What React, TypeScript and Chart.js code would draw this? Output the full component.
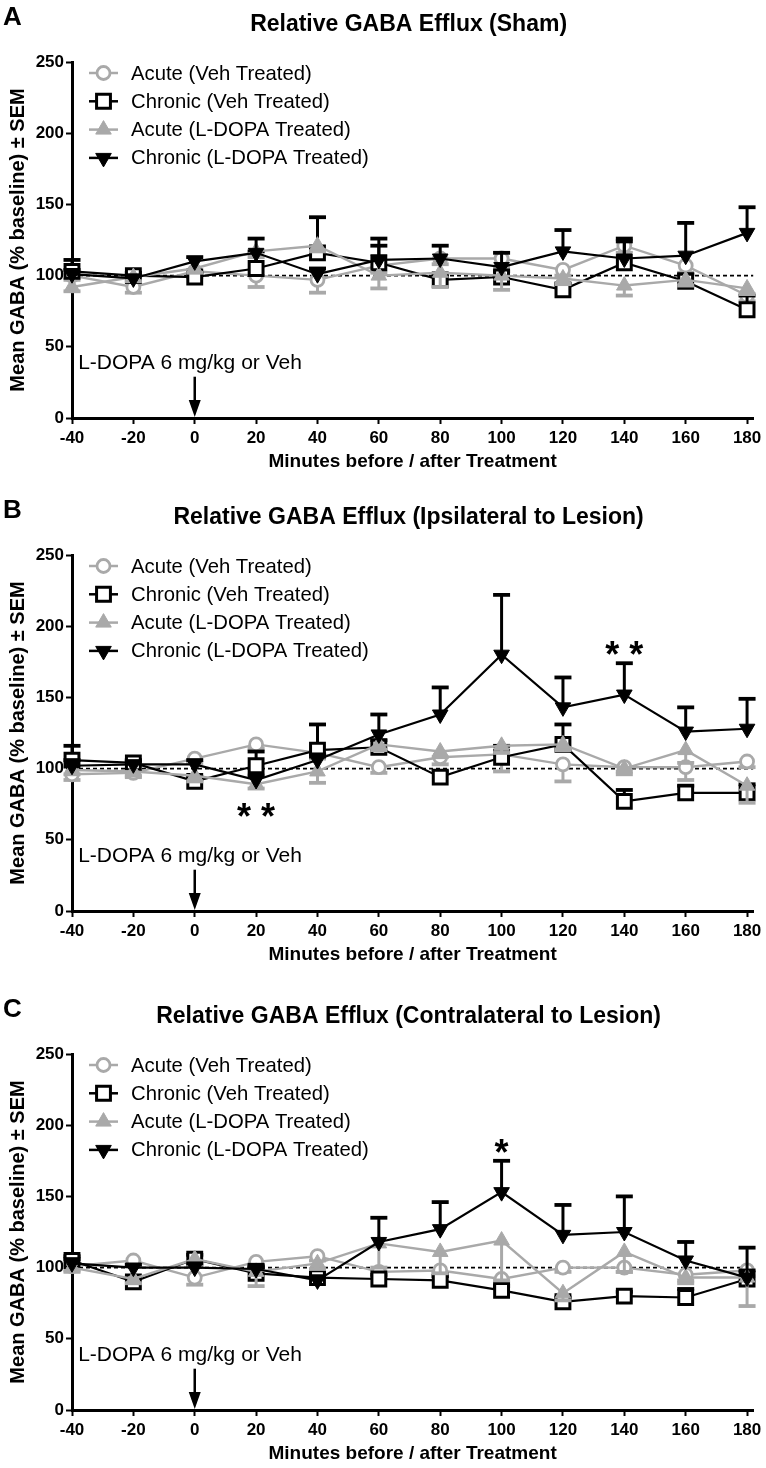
import React, { useEffect, useRef } from 'react';
import { Chart, registerables } from 'chart.js';

Chart.register(...registerables);

const FONT = "'Liberation Sans', Arial, Helvetica, sans-serif";
const GREY = '#a9a9a9';
const BLACK = '#000000';

// ---------- shared axis data ----------
const minutes = [-40, -20, 0, 20, 40, 60, 80, 100, 120, 140, 160, 180];
const xTickValues = [-40, -20, 0, 20, 40, 60, 80, 100, 120, 140, 160, 180];
const yTickValues = [0, 50, 100, 150, 200, 250];
const baselineLevel = 100;
const seriesLabels = [
  'Acute (Veh Treated)',
  'Chronic (Veh Treated)',
  'Acute (L-DOPA Treated)',
  'Chronic (L-DOPA Treated)',
];
const xAxisTitle = 'Minutes before / after Treatment';
const yAxisTitle = 'Mean GABA (% baseline) ± SEM';
const treatmentNote = 'L-DOPA 6 mg/kg or Veh';

// ---------- Panel A: Sham ----------
const shamAcuteVeh = [100, 92, 103, 100, 97, 107, 112, 112, 104, 121, 107, 86];
const shamAcuteVehSem = [3, 4, 4, 8, 9, 5, 4, 6, 4, 5, 5, 4];
const shamChronicVeh = [103, 100, 99, 105, 116, 109, 97, 99, 90, 109, 96, 76];
const shamChronicVehSem = [8, 2, 3, 12, 25, 12, 4, 4, 4, 15, 5, 10];
const shamAcuteLd = [92, 99, 105, 117, 121, 100, 102, 100, 98, 93, 97, 91];
const shamAcuteLdSem = [3, 3, 3, 4, 4, 9, 10, 10, 4, 7, 4, 4];
const shamChronicLd = [101, 98, 110, 116, 101, 111, 112, 106, 117, 112, 114, 130];
const shamChronicLdSem = [3, 2, 3, 10, 4, 15, 9, 10, 15, 14, 23, 18];
const shamStars: { t: number; v: number; text: string }[] = [];

// ---------- Panel B: Ipsilateral ----------
const ipsiAcuteVeh = [96, 97, 107, 117, 111, 101, 108, 110, 103, 101, 101, 105];
const ipsiAcuteVehSem = [4, 3, 3, 3, 4, 4, 5, 12, 12, 3, 9, 4];
const ipsiChronicVeh = [106, 104, 91, 102, 113, 115, 94, 108, 117, 77, 83, 83];
const ipsiChronicVehSem = [10, 2, 3, 10, 18, 5, 4, 8, 14, 8, 5, 6];
const ipsiAcuteLd = [99, 98, 95, 89, 98, 117, 112, 116, 117, 100, 113, 88];
const ipsiAcuteLdSem = [3, 3, 4, 3, 8, 4, 4, 5, 4, 4, 9, 12];
const ipsiChronicLd = [102, 103, 103, 92, 106, 124, 138, 180, 143, 152, 126, 128];
const ipsiChronicLdSem = [4, 2, 3, 3, 4, 14, 19, 42, 21, 22, 17, 21];
const ipsiStars = [
  { t: 20, v: 72, text: '* *' },
  { t: 140, v: 186, text: '* *' },
];

// ---------- Panel C: Contralateral ----------
const contraAcuteVeh = [101, 105, 93, 104, 108, 97, 98, 92, 100, 100, 95, 98];
const contraAcuteVehSem = [3, 3, 5, 3, 3, 4, 4, 3, 3, 3, 4, 4];
const contraChronicVeh = [105, 90, 106, 96, 93, 92, 91, 84, 76, 80, 79, 92];
const contraChronicVehSem = [3, 3, 3, 4, 4, 3, 3, 3, 3, 3, 6, 6];
const contraAcuteLd = [100, 92, 106, 97, 103, 117, 111, 119, 82, 111, 93, 93];
const contraAcuteLdSem = [3, 3, 4, 10, 4, 17, 15, 28, 5, 14, 4, 20];
const contraChronicLd = [103, 100, 100, 99, 91, 118, 127, 153, 123, 125, 105, 93];
const contraChronicLdSem = [3, 2, 3, 3, 3, 17, 19, 22, 21, 25, 13, 21];
const contraStars = [{ t: 100, v: 187, text: '*' }];

type PanelDef = {
  letter: string;
  title: string;
  top: number;
  acuteVeh: number[];
  acuteVehSem: number[];
  chronicVeh: number[];
  chronicVehSem: number[];
  acuteLd: number[];
  acuteLdSem: number[];
  chronicLd: number[];
  chronicLdSem: number[];
  stars: { t: number; v: number; text: string }[];
};

const panels: PanelDef[] = [
  {
    letter: 'A', title: 'Relative GABA Efflux (Sham)', top: 0,
    acuteVeh: shamAcuteVeh, acuteVehSem: shamAcuteVehSem,
    chronicVeh: shamChronicVeh, chronicVehSem: shamChronicVehSem,
    acuteLd: shamAcuteLd, acuteLdSem: shamAcuteLdSem,
    chronicLd: shamChronicLd, chronicLdSem: shamChronicLdSem,
    stars: shamStars,
  },
  {
    letter: 'B', title: 'Relative GABA Efflux (Ipsilateral to Lesion)', top: 493,
    acuteVeh: ipsiAcuteVeh, acuteVehSem: ipsiAcuteVehSem,
    chronicVeh: ipsiChronicVeh, chronicVehSem: ipsiChronicVehSem,
    acuteLd: ipsiAcuteLd, acuteLdSem: ipsiAcuteLdSem,
    chronicLd: ipsiChronicLd, chronicLdSem: ipsiChronicLdSem,
    stars: ipsiStars,
  },
  {
    letter: 'C', title: 'Relative GABA Efflux (Contralateral to Lesion)', top: 992,
    acuteVeh: contraAcuteVeh, acuteVehSem: contraAcuteVehSem,
    chronicVeh: contraChronicVeh, chronicVehSem: contraChronicVehSem,
    acuteLd: contraAcuteLd, acuteLdSem: contraAcuteLdSem,
    chronicLd: contraChronicLd, chronicLdSem: contraChronicLdSem,
    stars: contraStars,
  },
];

const CANVAS_W = 766;
const CANVAS_H = 476;
const PLOT_TOP = 62;
const PLOT_BOTTOM = 418;

function drawMarker(ctx: CanvasRenderingContext2D, kind: string, x: number, y: number, r: number, fill: string, stroke: string, bw: number) {
  ctx.beginPath();
  const s120 = Math.sin((2 * Math.PI) / 3);
  if (kind === 'circle') {
    ctx.arc(x, y, r, 0, Math.PI * 2);
  } else if (kind === 'rect') {
    const s = r * Math.SQRT1_2;
    ctx.rect(x - s, y - s, 2 * s, 2 * s);
  } else if (kind === 'triUp') {
    ctx.moveTo(x, y - r);
    ctx.lineTo(x + r * s120, y + r / 2);
    ctx.lineTo(x - r * s120, y + r / 2);
    ctx.closePath();
  } else {
    ctx.moveTo(x, y + r);
    ctx.lineTo(x + r * s120, y - r / 2);
    ctx.lineTo(x - r * s120, y - r / 2);
    ctx.closePath();
  }
  ctx.fillStyle = fill;
  ctx.fill();
  ctx.lineWidth = bw;
  ctx.strokeStyle = stroke;
  ctx.stroke();
}

const legendMarkers = [
  { kind: 'circle', r: 6.5, fill: '#ffffff', stroke: GREY, bw: 2.8, line: GREY },
  { kind: 'rect', r: 9.8, fill: '#ffffff', stroke: BLACK, bw: 3, line: BLACK },
  { kind: 'triUp', r: 9, fill: GREY, stroke: GREY, bw: 1, line: GREY },
  { kind: 'triDown', r: 9, fill: BLACK, stroke: BLACK, bw: 1, line: BLACK },
];

function makeDecorPlugin(panel: PanelDef) {
  return {
    id: 'panelDecor' + panel.letter,
    beforeDatasetDraw(chart: any, args: any) {
      const ds = chart.data.datasets[args.index];
      if (!ds.sem) return;
      const { ctx } = chart;
      const xs = chart.scales.x;
      const ys = chart.scales.y;
      ctx.save();
      ctx.strokeStyle = ds.borderColor;
      ctx.lineCap = 'butt';
      ds.data.forEach((p: any, i: number) => {
        const e = ds.sem[i];
        if (!e) return;
        const px = xs.getPixelForValue(p.x);
        const y0 = ys.getPixelForValue(p.y);
        const y1 = ys.getPixelForValue(p.y + ds.semDir * e);
        ctx.beginPath();
        ctx.lineWidth = 3;
        ctx.moveTo(px, y0);
        ctx.lineTo(px, y1);
        ctx.stroke();
        ctx.beginPath();
        ctx.lineWidth = 3.8;
        ctx.moveTo(px - 8.5, y1);
        ctx.lineTo(px + 8.5, y1);
        ctx.stroke();
      });
      ctx.restore();
    },
    afterDraw(chart: any) {
      const { ctx, chartArea } = chart;
      const xs = chart.scales.x;
      const ys = chart.scales.y;
      ctx.save();
      // panel letter
      ctx.fillStyle = BLACK;
      ctx.textBaseline = 'alphabetic';
      ctx.textAlign = 'left';
      ctx.font = `bold 26px ${FONT}`;
      ctx.fillText(panel.letter, 3, 25);
      // title
      ctx.textAlign = 'center';
      ctx.font = `bold 23px ${FONT}`;
      ctx.fillText(panel.title, (chartArea.left + chartArea.right) / 2 - 4, 31);
      // legend
      ctx.font = `20.3px ${FONT}`;
      ctx.textAlign = 'left';
      ctx.textBaseline = 'middle';
      seriesLabels.forEach((lab, i) => {
        const y = 73 + i * 28.3;
        const m = legendMarkers[i];
        ctx.beginPath();
        ctx.strokeStyle = m.line;
        ctx.lineWidth = 2.5;
        ctx.moveTo(89, y);
        ctx.lineTo(118, y);
        ctx.stroke();
        drawMarker(ctx, m.kind, 103.5, y, m.r, m.fill, m.stroke, m.bw);
        ctx.fillStyle = BLACK;
        ctx.fillText(lab, 131, y + 1);
      });
      // treatment note and arrow
      ctx.fillStyle = BLACK;
      ctx.font = `21px ${FONT}`;
      ctx.textAlign = 'left';
      ctx.textBaseline = 'middle';
      ctx.fillText(treatmentNote, xs.getPixelForValue(-38), ys.getPixelForValue(38.6));
      const ax = xs.getPixelForValue(0);
      const aTop = ys.getPixelForValue(29);
      const aTip = ys.getPixelForValue(0) - 1;
      ctx.beginPath();
      ctx.strokeStyle = BLACK;
      ctx.lineWidth = 2.5;
      ctx.moveTo(ax, aTop);
      ctx.lineTo(ax, aTip - 14);
      ctx.stroke();
      ctx.beginPath();
      ctx.moveTo(ax - 6, aTip - 17);
      ctx.lineTo(ax + 6, aTip - 17);
      ctx.lineTo(ax, aTip);
      ctx.closePath();
      ctx.fill();
      // significance stars
      ctx.font = `bold 36px ${FONT}`;
      ctx.textAlign = 'center';
      ctx.textBaseline = 'alphabetic';
      panel.stars.forEach((s) => {
        ctx.fillText(s.text, xs.getPixelForValue(s.t), ys.getPixelForValue(s.v) + 21);
      });
      ctx.restore();
    },
  };
}

function buildConfig(panel: PanelDef): any {
  const pts = (vals: number[]) => vals.map((v, i) => ({ x: minutes[i], y: v }));
  const datasets = [
    {
      label: seriesLabels[3], data: pts(panel.chronicLd), sem: panel.chronicLdSem, semDir: 1,
      borderColor: BLACK, borderWidth: 2.2, pointStyle: 'triangle', pointRotation: 180, pointRadius: 9,
      pointBackgroundColor: BLACK, pointBorderColor: BLACK, pointBorderWidth: 1, clip: false,
    },
    {
      label: seriesLabels[2], data: pts(panel.acuteLd), sem: panel.acuteLdSem, semDir: -1,
      borderColor: GREY, borderWidth: 2.4, pointStyle: 'triangle', pointRadius: 9,
      pointBackgroundColor: GREY, pointBorderColor: GREY, pointBorderWidth: 1, clip: false,
    },
    {
      label: seriesLabels[1], data: pts(panel.chronicVeh), sem: panel.chronicVehSem, semDir: 1,
      borderColor: BLACK, borderWidth: 2.2, pointStyle: 'rect', pointRadius: 9.8,
      pointBackgroundColor: '#ffffff', pointBorderColor: BLACK, pointBorderWidth: 3, clip: false,
    },
    {
      label: seriesLabels[0], data: pts(panel.acuteVeh), sem: panel.acuteVehSem, semDir: -1,
      borderColor: GREY, borderWidth: 2.4, pointStyle: 'circle', pointRadius: 6.5,
      pointBackgroundColor: '#ffffff', pointBorderColor: GREY, pointBorderWidth: 2.8, clip: false,
    },
    {
      label: 'baseline', data: [{ x: -40, y: baselineLevel }, { x: 182, y: baselineLevel }],
      borderColor: BLACK, borderWidth: 1.8, borderDash: [4, 3], pointRadius: 0, clip: false,
    },
  ];
  const tickFont = { family: FONT, size: 17, weight: 'bold' as const };
  const titleFont = { family: FONT, size: 19, weight: 'bold' as const };
  const yTitleFont = { family: FONT, size: 20, weight: 'bold' as const };
  return {
    type: 'line',
    data: { datasets },
    options: {
      responsive: false,
      animation: false,
      devicePixelRatio: 1,
      events: [],
      layout: { padding: { top: PLOT_TOP, right: 9, bottom: 0, left: 0 } },
      elements: { line: { tension: 0 } },
      plugins: {
        legend: { display: false },
        tooltip: { enabled: false },
        title: { display: false },
      },
      scales: {
        x: {
          type: 'linear',
          min: -40,
          max: 182,
          afterBuildTicks: (s: any) => { s.ticks = xTickValues.map((v) => ({ value: v })); },
          afterFit: (s: any) => {
            s.height = CANVAS_H - PLOT_BOTTOM;
            s.paddingLeft = 0; s.paddingRight = 0; s.paddingTop = 0; s.paddingBottom = 0;
          },
          ticks: { font: tickFont, color: BLACK, padding: 4, maxRotation: 0, autoSkip: false },
          grid: { drawOnChartArea: false, drawTicks: true, tickLength: 6, tickWidth: 2, tickColor: BLACK, color: BLACK },
          border: { display: true, width: 3, color: BLACK },
          title: { display: true, text: xAxisTitle, font: titleFont, color: BLACK, padding: { top: 0, bottom: 3 } },
        },
        y: {
          type: 'linear',
          min: 0,
          max: 250,
          afterBuildTicks: (s: any) => { s.ticks = yTickValues.map((v) => ({ value: v })); },
          afterFit: (s: any) => {
            s.width = 72;
            s.paddingLeft = 0; s.paddingRight = 0; s.paddingTop = 0; s.paddingBottom = 0;
          },
          ticks: { font: tickFont, color: BLACK, padding: 2 },
          grid: { drawOnChartArea: false, drawTicks: true, tickLength: 6, tickWidth: 2, tickColor: BLACK, color: BLACK },
          border: { display: true, width: 3, color: BLACK },
          title: { display: true, text: yAxisTitle, font: yTitleFont, color: BLACK, padding: { top: 6, bottom: 0 } },
        },
      },
    },
    plugins: [makeDecorPlugin(panel)],
  };
}

function Panel({ panel }: { panel: PanelDef }) {
  const ref = useRef<HTMLCanvasElement | null>(null);
  useEffect(() => {
    if (!ref.current) return;
    const chart = new Chart(ref.current, buildConfig(panel));
    return () => chart.destroy();
  }, [panel]);
  return (
    <canvas
      ref={ref}
      width={CANVAS_W}
      height={CANVAS_H}
      style={{ position: 'absolute', left: 0, top: panel.top, width: CANVAS_W, height: CANVAS_H }}
    />
  );
}

export default function App() {
  return (
    <div style={{ position: 'absolute', left: 0, top: 0, width: 766, height: 1468, background: '#ffffff', overflow: 'hidden' }}>
      {panels.map((p) => (
        <Panel key={p.letter} panel={p} />
      ))}
    </div>
  );
}
